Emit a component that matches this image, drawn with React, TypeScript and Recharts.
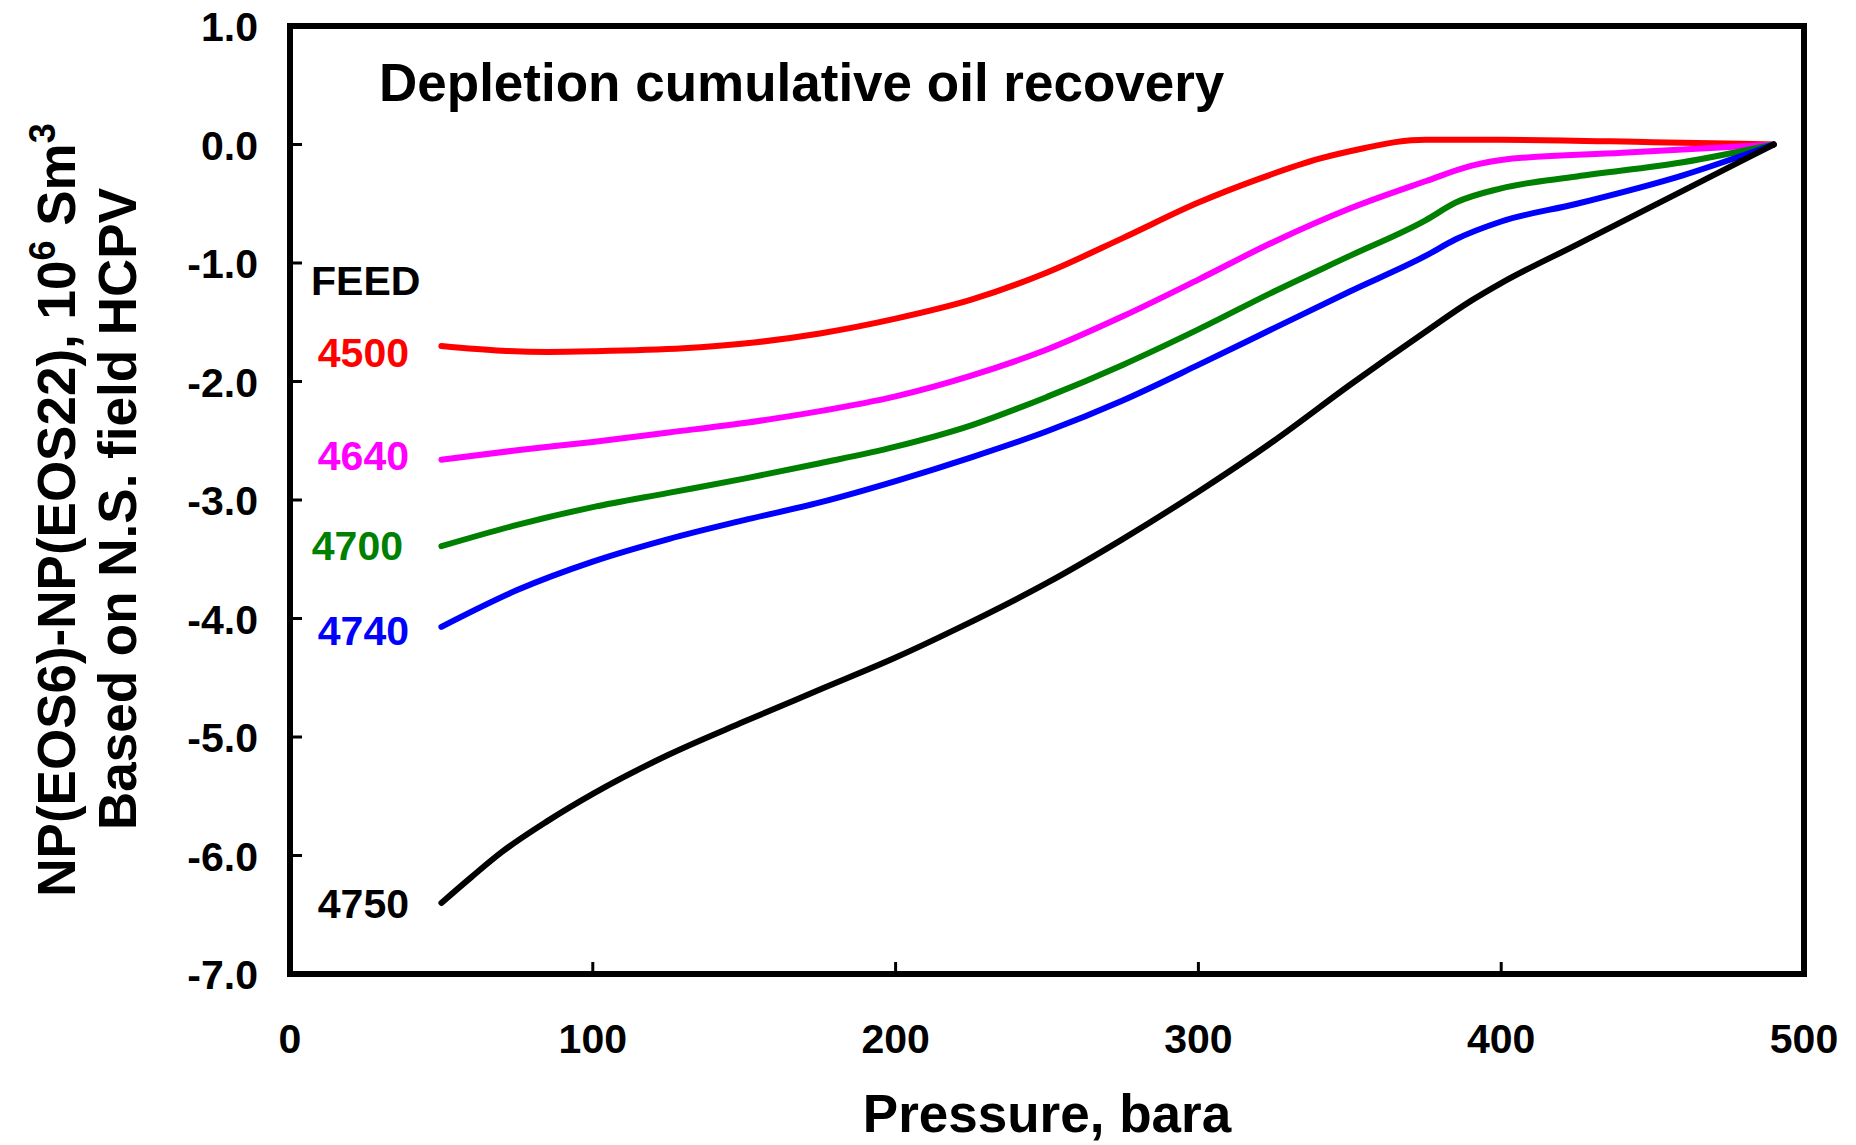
import React from 'react'
import { LineChart, Line, XAxis, YAxis, ReferenceArea } from 'recharts'

// pressure (bara) and NP(EOS6)-NP(EOS22) (10^6 Sm3) per feed
const P_4500 = [50, 70, 85, 100, 130, 150, 175, 200, 225, 250, 275, 300, 320, 340, 355, 365, 375, 400, 450, 490]
const NP_4500 = [-1.7, -1.74, -1.75, -1.745, -1.72, -1.68, -1.595, -1.47, -1.31, -1.08, -0.79, -0.49, -0.29, -0.12, -0.03, 0.02, 0.04, 0.04, 0.02, 0]

const P_4640 = [50, 75, 100, 125, 150, 175, 200, 225, 250, 275, 300, 325, 350, 375, 390, 400, 440, 490]
const NP_4640 = [-2.66, -2.58, -2.51, -2.43, -2.35, -2.25, -2.125, -1.95, -1.73, -1.45, -1.14, -0.82, -0.54, -0.31, -0.18, -0.13, -0.07, 0]

const P_4700 = [50, 75, 100, 125, 150, 175, 200, 225, 250, 275, 300, 325, 350, 375, 385, 400, 425, 460, 490]
const NP_4700 = [-3.39, -3.21, -3.06, -2.94, -2.82, -2.69, -2.55, -2.37, -2.13, -1.86, -1.56, -1.24, -0.94, -0.64, -0.49, -0.37, -0.27, -0.15, 0]

const P_4740 = [50, 75, 100, 125, 150, 175, 200, 225, 250, 275, 300, 325, 350, 375, 385, 400, 425, 460, 490]
const NP_4740 = [-4.07, -3.76, -3.52, -3.33, -3.17, -3.02, -2.84, -2.64, -2.42, -2.16, -1.86, -1.55, -1.24, -0.94, -0.8, -0.65, -0.5, -0.26, 0]

const P_4750 = [50, 60, 70, 85, 100, 125, 150, 175, 200, 220, 250, 275, 300, 325, 350, 375, 390, 400, 425, 450, 475, 490]
const NP_4750 = [-6.4, -6.18, -5.97, -5.71, -5.48, -5.15, -4.87, -4.6, -4.33, -4.09, -3.7, -3.33, -2.93, -2.5, -2.03, -1.58, -1.32, -1.17, -0.845, -0.52, -0.195, 0]

const X_TICKS = [0, 100, 200, 300, 400, 500]
const Y_TICKS = [1, 0, -1, -2, -3, -4, -5, -6, -7]

const FEEDS = ['4500', '4640', '4700', '4740', '4750']
const COLORS = ['#ff0000', '#ff00ff', '#008000', '#0000ff', '#000000']

const FONT = '"Liberation Sans", Arial, sans-serif'

const toPoints = (p: number[], v: number[]) => p.map((x, i) => ({ p: x, v: v[i] }))
const series = [
  toPoints(P_4500, NP_4500),
  toPoints(P_4640, NP_4640),
  toPoints(P_4700, NP_4700),
  toPoints(P_4740, NP_4740),
  toPoints(P_4750, NP_4750),
]

const YTick = (props: any) => {
  const { x, y, payload } = props
  return (
    <g>
      <line x1={x} x2={x + 12} y1={y} y2={y} stroke="#000" strokeWidth={3} />
      <text x={x - 32} y={y + 15} textAnchor="end" fontFamily={FONT} fontWeight="bold" fontSize={41} fill="#000">
        {Number(payload.value).toFixed(1)}
      </text>
    </g>
  )
}

const XTick = (props: any) => {
  const { x, y, payload } = props
  return (
    <g>
      <line x1={x} x2={x} y1={y} y2={y - 12} stroke="#000" strokeWidth={3} />
      <text x={x} y={y + 79} textAnchor="middle" fontFamily={FONT} fontWeight="bold" fontSize={41} fill="#000">
        {payload.value}
      </text>
    </g>
  )
}

// feed labels beside the start of each curve
const LABEL_POS = [
  { x: 409, y: 367 },
  { x: 409, y: 470 },
  { x: 403, y: 560 },
  { x: 409, y: 645 },
  { x: 409, y: 918 },
]

export default function App() {
  return (
    <div style={{ position: 'fixed', left: 0, top: 0, width: 1856, height: 1145, background: '#fff' }}>
      <LineChart
        width={1856}
        height={1145}
        margin={{ top: 26, right: 52, bottom: 111, left: 230 }}
      >
        <XAxis
          type="number"
          dataKey="p"
          domain={[0, 500]}
          ticks={X_TICKS}
          allowDataOverflow
          height={60}
          axisLine={false}
          tickLine={false}
          tickSize={0}
          tickMargin={0}
          tick={<XTick />}
        />
        <YAxis
          type="number"
          dataKey="v"
          domain={[-7, 1]}
          ticks={Y_TICKS}
          allowDataOverflow
          width={60}
          axisLine={false}
          tickLine={false}
          tickSize={0}
          tickMargin={0}
          tick={<YTick />}
        />
        <ReferenceArea
          x1={0}
          x2={500}
          y1={-7}
          y2={1}
          fill="none"
          fillOpacity={0}
          stroke="#000"
          strokeWidth={6}
          strokeOpacity={1}
          ifOverflow="visible"
        />
        {series.map((d, i) => (
          <Line
            key={FEEDS[i]}
            data={d}
            dataKey="v"
            type="monotone"
            stroke={COLORS[i]}
            strokeWidth={6}
            strokeLinecap="round"
            dot={false}
            activeDot={false}
            isAnimationActive={false}
          />
        ))}
      </LineChart>
      <svg
        width={1856}
        height={1145}
        style={{ position: 'absolute', left: 0, top: 0, pointerEvents: 'none' }}
        fontFamily={FONT}
        fontWeight="bold"
      >
        <text x={379} y={101} fontSize={53} fill="#000">Depletion cumulative oil recovery</text>
        <text x={311} y={295} fontSize={41} fill="#000">FEED</text>
        {FEEDS.map((f, i) => (
          <text key={f} x={LABEL_POS[i].x} y={LABEL_POS[i].y} fontSize={41} fill={COLORS[i]} textAnchor="end">
            {f}
          </text>
        ))}
        <text x={1047} y={1132} fontSize={53} fill="#000" textAnchor="middle">Pressure, bara</text>
        <text transform="translate(75,510) rotate(-90)" fontSize={53} fill="#000" textAnchor="middle">
          NP(EOS6)-NP(EOS22), 10<tspan fontSize={36} dy={-20}>6</tspan>
          <tspan dy={20}> Sm</tspan>
          <tspan fontSize={36} dy={-20}>3</tspan>
        </text>
        <text transform="translate(136,509) rotate(-90)" fontSize={53} fill="#000" textAnchor="middle">
          Based on N.S. field HCPV
        </text>
      </svg>
    </div>
  )
}
